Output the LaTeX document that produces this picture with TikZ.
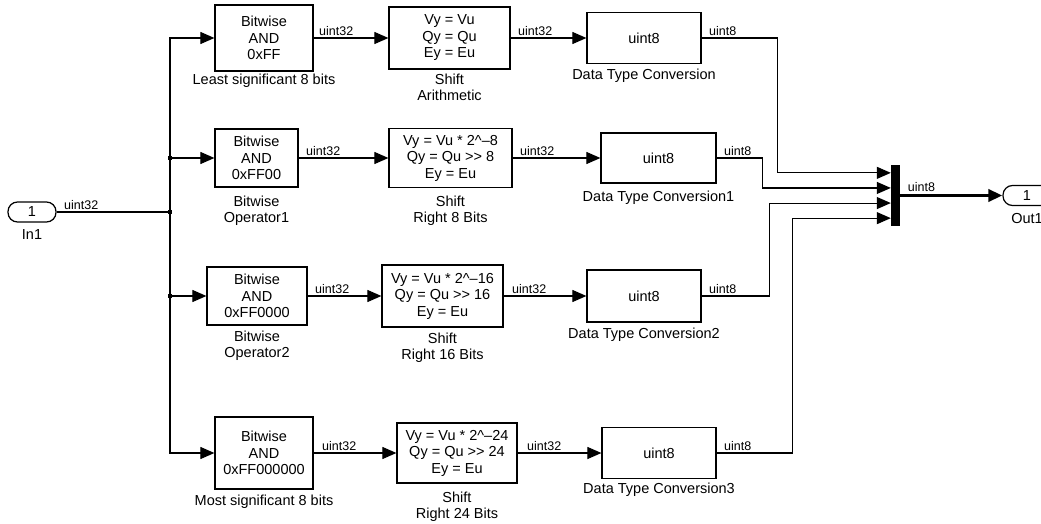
\documentclass[tikz,border=0pt]{standalone}
\usepackage{fontspec}
\setmainfont{Liberation Sans}
\usetikzlibrary{arrows.meta,calc}
\begin{document}
\begin{tikzpicture}[x=1pt,y=-1pt,
  blk/.style={draw, line width=1.2pt, align=center, inner sep=0pt, font=\fontsize{14.5}{16.5}\selectfont},
  lbl/.style={align=center, inner sep=0pt, font=\fontsize{14.5}{16}\selectfont},
  sl/.style={inner sep=0pt, anchor=south west, font=\fontsize{12.5}{14}\selectfont},
  sig/.style={line width=1.1pt, -{Triangle[length=14pt,width=12pt]}},
  wire/.style={line width=1.1pt},
  port/.style={draw, line width=1.2pt, rounded corners=9.5pt, minimum width=48pt, minimum height=20pt, inner sep=0pt, font=\fontsize{14.5}{16}\selectfont},
  jdot/.style={fill, inner sep=0pt, minimum size=3.5pt}
]
\useasboundingbox (0,0) rectangle (1041,524);
\clip (0,0) rectangle (1041,524);

% ports
\node[port] (in1) at (32,212) {1};
\node[lbl, anchor=base] (in1l) at (32,239) {In1};
\node[port] (out1) at (1027,195.5) {1};
\node[lbl, anchor=base] (out1l) at (1027,223) {Out1};

% row 1
\node[blk, minimum width=98pt, minimum height=66pt] (ba1) at (264,38) {Bitwise\\AND\\0xFF};
\node[blk, minimum width=121pt, minimum height=62pt] (sh1) at (449.5,38) {Vy = Vu\\Qy = Qu\\Ey = Eu};
\node[blk, minimum width=114pt, minimum height=51pt] (dtc0) at (644,38) {uint8};
\node[lbl, anchor=base] (ba1l) at (264,85) {Least significant 8 bits};
\node[lbl, anchor=base] (sh1l) at (449.5,100.5) {Shift\\Arithmetic};
\node[lbl, anchor=base] (dtc0l) at (644,80) {Data Type Conversion};

% row 2
\node[blk, minimum width=83pt, minimum height=58pt] (ba2) at (256.5,158) {Bitwise\\AND\\0xFF00};
\node[blk, minimum width=123pt, minimum height=59pt] (sh2) at (450.5,158) {Vy = Vu * 2\textasciicircum–8\\Qy = Qu >\kern0pt> 8\\Ey = Eu};
\node[blk, minimum width=115pt, minimum height=50pt] (dtc1) at (658.5,158) {uint8};
\node[lbl, anchor=base] (ba2l) at (256.5,222) {Bitwise\\Operator1};
\node[lbl, anchor=base] (sh2l) at (450.5,222) {Shift\\Right 8 Bits};
\node[lbl, anchor=base] (dtc1l) at (658.5,201) {Data Type Conversion1};

% row 3
\node[blk, minimum width=100pt, minimum height=58pt] (ba3) at (257,296) {Bitwise\\AND\\0xFF0000};
\node[blk, minimum width=121pt, minimum height=62pt] (sh3) at (442.5,296) {Vy = Vu * 2\textasciicircum–16\\Qy = Qu >\kern0pt> 16\\Ey = Eu};
\node[blk, minimum width=114pt, minimum height=52pt] (dtc2) at (644,296) {uint8};
\node[lbl, anchor=base] (ba3l) at (257,357) {Bitwise\\Operator2};
\node[lbl, anchor=base] (sh3l) at (442.5,359) {Shift\\Right 16 Bits};
\node[lbl, anchor=base] (dtc2l) at (644,338) {Data Type Conversion2};

% row 4
\node[blk, minimum width=98pt, minimum height=72pt] (ba4) at (264,453) {Bitwise\\AND\\0xFF000000};
\node[blk, minimum width=120pt, minimum height=60pt] (sh4) at (457,453) {Vy = Vu * 2\textasciicircum–24\\Qy = Qu >\kern0pt> 24\\Ey = Eu};
\node[blk, minimum width=114pt, minimum height=51pt] (dtc3) at (659,453) {uint8};
\node[lbl, anchor=base] (ba4l) at (264,505) {Most significant 8 bits};
\node[lbl, anchor=base] (sh4l) at (457,518) {Shift\\Right 24 Bits};
\node[lbl, anchor=base] (dtc3l) at (659,493) {Data Type Conversion3};

% mux
\node[fill, draw, inner sep=0pt, minimum width=8pt, minimum height=60pt] (mux) at (895,195.5) {};
\coordinate (m1) at ($(mux.north west)!0.125!(mux.south west)$);
\coordinate (m2) at ($(mux.north west)!0.375!(mux.south west)$);
\coordinate (m3) at ($(mux.north west)!0.625!(mux.south west)$);
\coordinate (m4) at ($(mux.north west)!0.875!(mux.south west)$);

% bus
\coordinate (j0) at (170,212);
\coordinate (j2) at (170,158);
\coordinate (j3) at (170,296);
\draw[wire] (in1.east) -- node[sl, pos=0, xshift=7pt, yshift=2pt] (lin) {uint32} (j0);
\draw[sig] (j0) |- (ba1.west);
\draw[sig] (j0) |- (ba4.west);
\draw[sig] (j2) -- (ba2.west);
\draw[sig] (j3) -- (ba3.west);
\node[jdot] (d0) at (j0) {};
\node[jdot] (d2) at (j2) {};
\node[jdot] (d3) at (j3) {};

% row signals
\draw[sig] (ba1.east) -- node[sl, pos=0, xshift=5pt, yshift=2pt] (l11) {uint32} (sh1.west);
\draw[sig] (sh1.east) -- node[sl, pos=0, xshift=7pt, yshift=2pt] (l12) {uint32} (dtc0.west);
\draw[sig] (dtc0.east) -- node[sl, pos=0, xshift=7pt, yshift=2pt] (l13) {uint8} ++(76,0) |- (m1);

\draw[sig] (ba2.east) -- node[sl, pos=0, xshift=7pt, yshift=2pt] (l21) {uint32} (sh2.west);
\draw[sig] (sh2.east) -- node[sl, pos=0, xshift=7pt, yshift=2pt] (l22) {uint32} (dtc1.west);
\draw[sig] (dtc1.east) -- node[sl, pos=0, xshift=7pt, yshift=2pt] (l23) {uint8} ++(46,0) |- (m2);

\draw[sig] (ba3.east) -- node[sl, pos=0, xshift=7pt, yshift=2pt] (l31) {uint32} (sh3.west);
\draw[sig] (sh3.east) -- node[sl, pos=0, xshift=8pt, yshift=2pt] (l32) {uint32} (dtc2.west);
\draw[sig] (dtc2.east) -- node[sl, pos=0, xshift=7pt, yshift=2pt] (l33) {uint8} ++(68,0) |- (m3);

\draw[sig] (ba4.east) -- node[sl, pos=0, xshift=8pt, yshift=2pt] (l41) {uint32} (sh4.west);
\draw[sig] (sh4.east) -- node[sl, pos=0, xshift=9pt, yshift=2pt] (l42) {uint32} (dtc3.west);
\draw[sig] (dtc3.east) -- node[sl, pos=0, xshift=7pt, yshift=2pt] (l43) {uint8} ++(76,0) |- (m4);

% mux output
\draw[line width=3.5pt, -{Triangle[length=14pt,width=12pt]}] (mux.east) -- node[sl, pos=0, xshift=7pt, yshift=2.5pt] (lmo) {uint8} (out1.west);
\end{tikzpicture}
\end{document}
